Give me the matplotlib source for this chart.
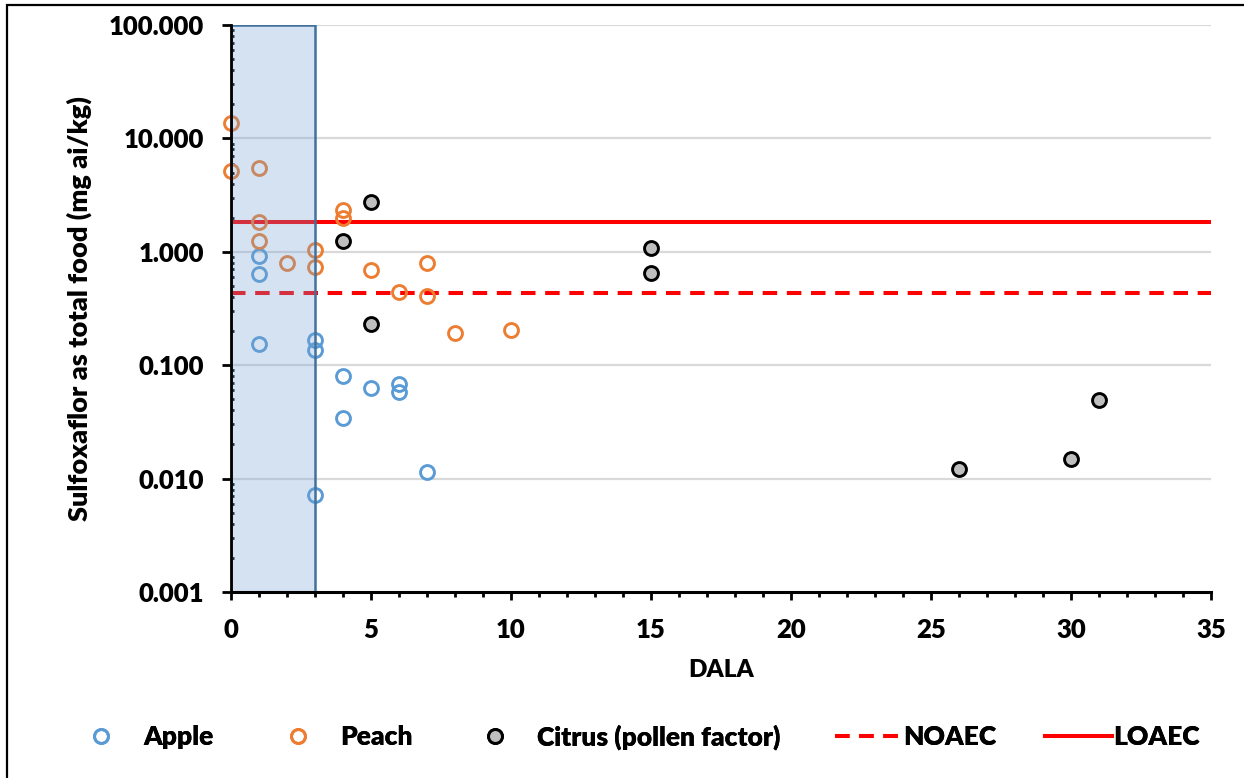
import matplotlib
matplotlib.use("Agg")
import matplotlib.pyplot as plt
from matplotlib.patches import Rectangle
from matplotlib.ticker import FixedLocator, MultipleLocator, FormatStrFormatter, LogLocator, NullFormatter

plt.rcParams['font.family'] = ['Lato', 'DejaVu Sans']
plt.rcParams['font.weight'] = 'heavy'
WT = 'heavy'

# Data (DALA, residue mg ai/kg)
apple_x = [1, 1, 1, 3, 3, 3, 4, 4, 5, 6, 6, 7]
apple_y = [0.925, 0.634, 0.154, 0.167, 0.136, 0.0072, 0.080, 0.034, 0.0634, 0.068, 0.0577, 0.0114]

peach_x = [0, 0, 1, 1, 1, 2, 3, 3, 4, 4, 5, 6, 7, 7, 8, 10]
peach_y = [13.8, 5.16, 5.52, 1.82, 1.25, 0.796, 1.03, 0.735, 2.34, 2.0, 0.695, 0.44, 0.796, 0.407, 0.192, 0.204]

citrus_x = [4, 5, 5, 15, 15, 26, 30, 31]
citrus_y = [1.245, 2.75, 0.23, 1.075, 0.655, 0.0122, 0.0149, 0.0493]

noaec = 0.435
loaec = 1.84
x_range = [0, 35]
shade_range = [0, 3]

yticks = [0.001, 0.01, 0.1, 1, 10, 100]
xticks = [0, 5, 10, 15, 20, 25, 30, 35]

W, H = 1244, 778
fig = plt.figure(figsize=(W / 100, H / 100), dpi=100)
ax = fig.add_axes([231 / W, 1 - 592 / H, (1211 - 231) / W, (592 - 25) / H])

ax.set_yscale('log')
ax.set_xlim(x_range)
ax.set_ylim(yticks[0], yticks[-1])

# gridlines
for t in yticks[1:]:
    ax.axhline(t, color='#d9d9d9', lw=1.6, zorder=0)

ms = 10
mew = 2.1
ax.plot(apple_x, apple_y, 'o', ms=ms, mfc='none', mec='#5b9bd5', mew=mew, zorder=3,
        clip_on=False, label='Apple')
ax.plot(peach_x, peach_y, 'o', ms=ms, mfc='none', mec='#ed7d31', mew=mew, zorder=3,
        clip_on=False, label='Peach')
ax.plot(citrus_x, citrus_y, 'o', ms=ms, mfc='#bfbfbf', mec='black', mew=mew, zorder=3,
        clip_on=False, label='Citrus (pollen factor)')

ax.plot(x_range, [noaec, noaec], color='#ff0000', lw=2.9, dashes=(3.6, 2.4), zorder=2, label='NOAEC')
ax.plot(x_range, [loaec, loaec], color='#ff0000', lw=2.9, zorder=2, label='LOAEC')

# shaded window
ax.add_patch(Rectangle((shade_range[0], yticks[0]), shade_range[1] - shade_range[0], yticks[-1] - yticks[0],
                       facecolor=(115 / 255, 162 / 255, 212 / 255, 0.3), edgecolor='#41719c', lw=1.8, zorder=4))

# axes styling
ax.spines['top'].set_visible(False)
ax.spines['right'].set_visible(False)
ax.spines['left'].set_linewidth(2.0)
ax.spines['bottom'].set_linewidth(2.2)
ax.spines['left'].set_zorder(5)
ax.spines['bottom'].set_zorder(5)

ax.yaxis.set_major_locator(FixedLocator(yticks))
ax.yaxis.set_major_formatter(FormatStrFormatter('%.3f'))
ax.yaxis.set_minor_locator(LogLocator(base=10, subs=range(2, 10)))
ax.yaxis.set_minor_formatter(NullFormatter())
ax.xaxis.set_major_locator(FixedLocator(xticks))
ax.xaxis.set_minor_locator(MultipleLocator(1))

ax.tick_params(axis='y', which='major', direction='out', length=6.5, width=2, pad=13, labelsize=18.5)
ax.tick_params(axis='y', which='minor', direction='in', length=2.5, width=2)
ax.tick_params(axis='x', which='major', direction='out', length=6, width=2, pad=13, labelsize=18.5)
ax.tick_params(axis='x', which='minor', direction='out', length=3.5, width=2)
for lbl in ax.get_xticklabels() + ax.get_yticklabels():
    lbl.set_fontweight(WT)

ax.set_xlabel('DALA', fontsize=17.5, fontweight=WT, labelpad=12)
ax.set_ylabel('Sulfoxaflor as total food (mg ai/kg)', fontsize=19.5, fontweight=WT, labelpad=12)

# legend: one small legend per entry, placed like the original
h, l = ax.get_legend_handles_labels()
fs = 19
em = fs * 100 / 72  # pixels per em
y_leg = 1 - 737 / H
# (handle start px, handle length em, text pad em)
specs = [
    (101 - 0.5 * em, 1.0, (42 - 0.5 * em) / em),
    (298 - 0.5 * em, 1.0, (42 - 0.5 * em) / em),
    (495 - 0.5 * em, 1.0, (42 - 0.5 * em) / em),
    (835, 67 / em, 0.05),
    (1045, 67 / em, 0.05),
]
for (hx, hl, pad), hh, ll in zip(specs, h, l):
    leg = fig.legend([hh], [ll], loc='center left', bbox_to_anchor=(hx / W, y_leg),
                     frameon=False, handlelength=hl, handletextpad=pad,
                     borderpad=0, borderaxespad=0, markerscale=1.0,
                     prop={'weight': WT, 'size': fs})
    fig.add_artist(leg)

# outer frame
fig.add_artist(Rectangle((7 / W, -0.1), 1.2, 1 - 5 / H + 0.1, transform=fig.transFigure,
                         fill=False, edgecolor='black', lw=1.6))

fig.savefig('out.png', dpi=100)
